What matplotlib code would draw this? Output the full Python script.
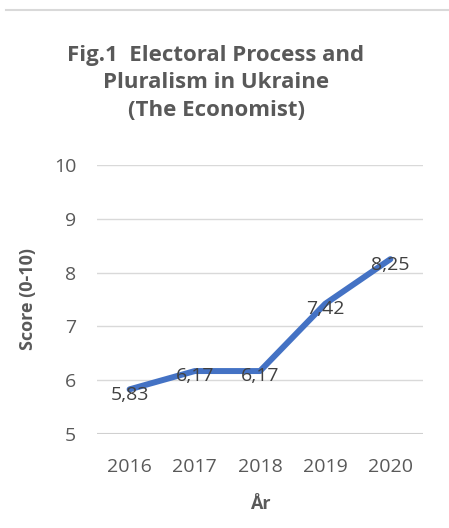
import matplotlib.pyplot as plt
from matplotlib.lines import Line2D

years = ["2016", "2017", "2018", "2019", "2020"]
scores = [5.83, 6.17, 6.17, 7.42, 8.25]
score_labels = ["5,83", "6,17", "6,17", "7,42", "8,25"]
yticks = [5, 6, 7, 8, 9, 10]

plt.rcParams['font.family'] = ['Open Sans', 'DejaVu Sans']

fig = plt.figure(figsize=(4.49, 5.28), dpi=100)
W, H = 449, 528
ax = fig.add_axes([97 / W, 1 - 434 / H, 326 / W, (434 - 165) / H])

xs = list(range(len(years)))
ax.plot(xs, scores, color="#4472C4", lw=4.3, solid_joinstyle="round", solid_capstyle="round", zorder=3)
for x, y, lab in zip(xs, scores, score_labels):
    ax.text(x, y - 0.1, lab, ha="center", va="center", fontsize=14, color="#404040", zorder=4)

ax.set_xlim(-0.5, len(years) - 0.5)
ax.set_ylim(5, 10)
ax.set_yticks(yticks)
ax.set_yticklabels([str(t) for t in yticks])
ax.set_xticks(xs)
ax.set_xticklabels(years)
ax.tick_params(length=0, labelsize=14, labelcolor="#595959")
ax.tick_params(axis="y", pad=15)
ax.tick_params(axis="x", pad=17)
ax.grid(axis="y", color="#D9D9D9", lw=1)
ax.set_axisbelow(True)
for s in ax.spines.values():
    s.set_visible(False)
ax.axhline(5, color="#D0D0D0", lw=1.5, zorder=1)

ax.set_xlabel("År", fontsize=13, fontweight="bold", color="#595959", labelpad=14)
ax.set_ylabel("Score (0-10)", fontsize=13, fontweight="bold", color="#595959", labelpad=12)

fig.text(216 / W, 1 - 83 / H, "Fig.1  Electoral Process and\nPluralism in Ukraine\n(The Economist)",
         ha="center", va="center", fontsize=16, fontweight="bold", color="#595959", linespacing=1.38)

fig.add_artist(Line2D([6 / W, 448 / W], [1 - 10 / H, 1 - 10 / H], color="#D9D9D9", lw=1.5))

fig.savefig("out.png", dpi=100)
